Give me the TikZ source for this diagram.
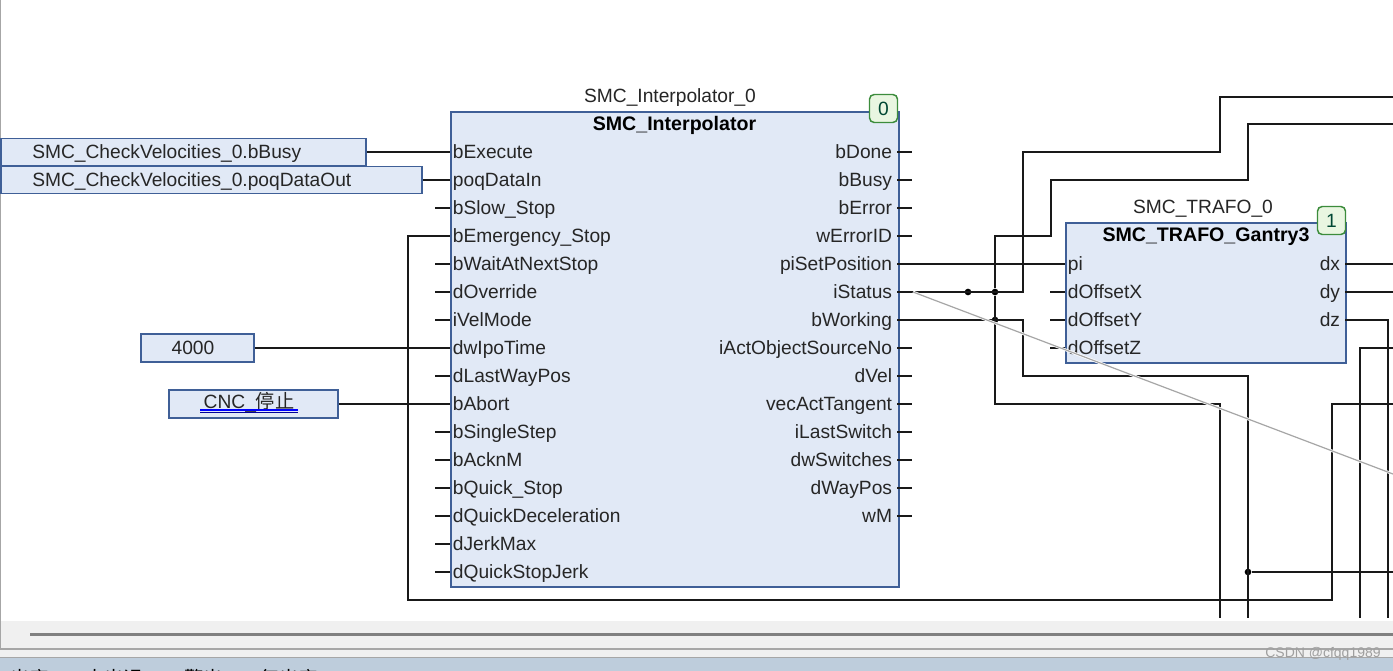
\documentclass[tikz,border=0pt]{standalone}
\usepackage{fontspec}
\setmainfont{Liberation Sans}
\newfontfamily\cjk{Noto Sans CJK SC}
\definecolor{blockfill}{HTML}{E1E9F6}
\definecolor{blockline}{HTML}{3F5F97}
\definecolor{badgefill}{HTML}{E9F6E1}
\definecolor{badgeline}{HTML}{3C8C3C}
\definecolor{barfill}{HTML}{F0F0F0}
\definecolor{statusfill}{HTML}{BECDDC}
\tikzset{
  fb/.style={draw=blockline, fill=blockfill, line width=1.2pt, anchor=north west, inner sep=0pt},
  inbox/.style={draw=blockline, fill=blockfill, line width=1.2pt, inner sep=0pt},
  badge/.style={draw=badgeline, fill=badgefill, line width=1.1pt, rounded corners=3.5pt, inner sep=0pt, minimum size=21pt, text=black!65!green!80!blue},
  label/.style={inner sep=0pt, text height=12pt, text depth=3pt, text=black!85},
  title/.style={label, text=black, font=\fontsize{14.7}{17}\selectfont\bfseries},
  inport/.style={label, anchor=west, inner xsep=2pt, inner ysep=0pt},
  outport/.style={label, anchor=east, inner xsep=3.5pt, inner ysep=0pt},
  wire/.style={line width=1.1pt, black!90},
  junction/.style={circle, fill=black, inner sep=0pt, minimum size=5pt},
  status/.style={anchor=west, inner sep=0pt, font=\fontsize{14.4}{17}\selectfont\cjk}
}
\begin{document}
\begin{tikzpicture}[x=0.75pt, y=-0.75pt, every node/.style={font=\fontsize{14.4}{17}\selectfont}]
  \useasboundingbox (0,0) rectangle (1393,671);
  \clip (0,0) rectangle (1393,671);
  % 1. window frame
  \fill[white] (0,0) rectangle (1393,671);
  \fill[barfill] (0,621) rectangle (1393,658);
  \fill[statusfill] (0,658) rectangle (1393,671);
  \draw[gray!70, line width=1pt] (0.5,0) -- (0.5,649) -- (1393,649);
  \draw[gray!70, line width=.7pt] (0,657) -- (1393,657);
  \draw[gray, line width=2pt] (30,634.5) -- (1393,634.5);
  \node[status] (statusA) at (10,678) {出库};
  \node[status] (statusB) at (85,678) {人出误};
  \node[status] (statusC) at (184,678) {警出};
  \node[status] (statusD) at (260,678) {复出库};
  \node[inner sep=0pt, text=gray!75, font=\fontsize{10.5}{12}\selectfont] (mark) at (1323,654) {CSDN @cfqq1989};

  % 2. SMC_Interpolator block
  \node[fb, minimum width=336pt, minimum height=356.25pt] (interp) at (450,111) {};
  \node[label] (interpName) at (670,96) {SMC\_Interpolator\_0};
  \node[title] (interpType) at (674.5,124) {SMC\_Interpolator};
  \node[badge] (interpBadge) at (883.5,108.5) {0};
  \node[inport] (bExecute) at (450,152) {bExecute};
  \node[inport] (poqDataIn) at (450,180) {poqDataIn};
  \node[inport] (bSlowStop) at (450,208) {bSlow\_Stop};
  \node[inport] (bEmergencyStop) at (450,236) {bEmergency\_Stop};
  \node[inport] (bWaitAtNextStop) at (450,264) {bWaitAtNextStop};
  \node[inport] (dOverride) at (450,292) {dOverride};
  \node[inport] (iVelMode) at (450,320) {iVelMode};
  \node[inport] (dwIpoTime) at (450,348) {dwIpoTime};
  \node[inport] (dLastWayPos) at (450,376) {dLastWayPos};
  \node[inport] (bAbort) at (450,404) {bAbort};
  \node[inport] (bSingleStep) at (450,432) {bSingleStep};
  \node[inport] (bAcknM) at (450,460) {bAcknM};
  \node[inport] (bQuickStop) at (450,488) {bQuick\_Stop};
  \node[inport] (dQuickDeceleration) at (450,516) {dQuickDeceleration};
  \node[inport] (dJerkMax) at (450,544) {dJerkMax};
  \node[inport] (dQuickStopJerk) at (450,572) {dQuickStopJerk};
  \node[outport] (bDone) at (897,152) {bDone};
  \node[outport] (bBusy) at (897,180) {bBusy};
  \node[outport] (bError) at (897,208) {bError};
  \node[outport] (wErrorID) at (897,236) {wErrorID};
  \node[outport] (piSetPosition) at (897,264) {piSetPosition};
  \node[outport] (iStatus) at (897,292) {iStatus};
  \node[outport] (bWorking) at (897,320) {bWorking};
  \node[outport] (iActObjectSourceNo) at (897,348) {iActObjectSourceNo};
  \node[outport] (dVel) at (897,376) {dVel};
  \node[outport] (vecActTangent) at (897,404) {vecActTangent};
  \node[outport] (iLastSwitch) at (897,432) {iLastSwitch};
  \node[outport] (dwSwitches) at (897,460) {dwSwitches};
  \node[outport] (dWayPos) at (897,488) {dWayPos};
  \node[outport] (wM) at (897,516) {wM};

  % 3. SMC_TRAFO block
  \node[fb, minimum width=210pt, minimum height=105pt] (trafo) at (1065,222) {};
  \node[label] (trafoName) at (1203,207) {SMC\_TRAFO\_0};
  \node[title] (trafoType) at (1206,235) {SMC\_TRAFO\_Gantry3};
  \node[badge] (trafoBadge) at (1331.5,220.5) {1};
  \node[inport] (pi) at (1065,264) {pi};
  \node[inport] (dOffsetX) at (1065,292) {dOffsetX};
  \node[inport] (dOffsetY) at (1065,320) {dOffsetY};
  \node[inport] (dOffsetZ) at (1065,348) {dOffsetZ};
  \node[outport] (dx) at (1345,264) {dx};
  \node[outport] (dy) at (1345,292) {dy};
  \node[outport] (dz) at (1345,320) {dz};

  % 4. input boxes
  \node[inbox, minimum width=273.75pt, minimum height=20.5pt] (busyBox) at (183.5,152) {};
  \node[label, anchor=west] (busyText) at (32,152) {SMC\_CheckVelocities\_0.bBusy};
  \node[inbox, minimum width=315.75pt, minimum height=20.5pt] (dataBox) at (211.5,180) {};
  \node[label, anchor=west] (dataText) at (32,180) {SMC\_CheckVelocities\_0.poqDataOut};
  \node[inbox, minimum width=84.75pt, minimum height=21pt] (ipoBox) at (197.5,348) {};
  \node[label] (ipoText) at (193,348) {4000};
  \node[inbox, minimum width=126.75pt, minimum height=21pt] (stopBox) at (253.5,404) {};
  \node[label] (stopText) at (249,402) {CNC\_{\cjk 停止}};
  \coordinate (stopLineA) at (200,410);
  \coordinate (stopLineB) at (298,410);
  \coordinate (stopLineC) at (200,412.5);
  \coordinate (stopLineD) at (298,412.5);
  \draw[blue, line width=1.1pt] (stopLineA) -- (stopLineB);
  \draw[blue!60!black, line width=1.1pt] (stopLineC) -- (stopLineD);

  % 5. free ends of the wires
  \coordinate (topA) at (1393,97);
  \coordinate (topB) at (1393,124);
  \coordinate (dxEnd) at (1393,264);
  \coordinate (dyEnd) at (1393,292);
  \coordinate (rowA) at (1393,348);
  \coordinate (rowB) at (1393,404);
  \coordinate (rowC) at (1393,572);
  \coordinate (downA) at (1220,618);
  \coordinate (downB) at (1248,618);
  \coordinate (downC) at (1360,618);
  \coordinate (downD) at (1388,618);
  \node[junction] (dotStatusA) at (968,292) {};
  \node[junction] (dotStatusB) at (995,292) {};
  \node[junction] (dotWork) at (995,320) {};
  \node[junction] (dotLow) at (1248,572) {};

  % 6. wires
  \draw[wire] (busyBox.east) -- (bExecute.west);
  \draw[wire] (dataBox.east) -- (poqDataIn.west);
  \draw[wire] (ipoBox.east) -- (dwIpoTime.west);
  \draw[wire] (stopBox.east) -- (bAbort.west);
  \draw[wire] (piSetPosition.east) -- (pi.west);
  \draw[wire] (dx.east) -- (dxEnd);
  \draw[wire] (dy.east) -- (dyEnd);
  \draw[wire] (iStatus.east) -- (1023,292) -- (1023,152) -- (1220,152) -- (1220,97) -- (topA);
  \draw[wire] (dotStatusB) -- (995,236) -- (1051,236) -- (1051,180) -- (1248,180) -- (1248,124) -- (topB);
  \draw[wire] (dotStatusB) -- (995,404) -- (1220,404) -- (downA);
  \draw[wire] (bWorking.east) -- (1023,320) -- (1023,376) -- (1248,376) -- (downB);
  \draw[wire] (dz.east) -- (1388,320) -- (downD);
  \draw[wire] (rowA) -- (1360,348) -- (downC);
  \draw[wire] (rowB) -- (1332,404) -- (1332,600) -- (408,600) -- (408,236) -- (bEmergencyStop.west);
  \draw[wire] (dotLow) -- (rowC);
  % open ports
  \draw[wire] (bSlowStop.west) -- ++(-15,0) (bWaitAtNextStop.west) -- ++(-15,0) (dOverride.west) -- ++(-15,0)
    (iVelMode.west) -- ++(-15,0) (dLastWayPos.west) -- ++(-15,0) (bSingleStep.west) -- ++(-15,0)
    (bAcknM.west) -- ++(-15,0) (bQuickStop.west) -- ++(-15,0) (dQuickDeceleration.west) -- ++(-15,0)
    (dJerkMax.west) -- ++(-15,0) (dQuickStopJerk.west) -- ++(-15,0)
    (dOffsetX.west) -- ++(-15,0) (dOffsetY.west) -- ++(-15,0) (dOffsetZ.west) -- ++(-15,0);
  \draw[wire] (bDone.east) -- ++(15,0) (bBusy.east) -- ++(15,0) (bError.east) -- ++(15,0) (wErrorID.east) -- ++(15,0)
    (iActObjectSourceNo.east) -- ++(15,0) (dVel.east) -- ++(15,0) (vecActTangent.east) -- ++(15,0)
    (iLastSwitch.east) -- ++(15,0) (dwSwitches.east) -- ++(15,0) (dWayPos.east) -- ++(15,0) (wM.east) -- ++(15,0);

  % 7. grey diagonal
  \coordinate (diagA) at (913,292);
  \coordinate (diagB) at (1393,474);
  \draw[white, line width=2pt] (diagA) -- (diagB);
  \draw[gray!70, line width=.9pt] (diagA) -- (diagB);
\end{tikzpicture}
\end{document}
